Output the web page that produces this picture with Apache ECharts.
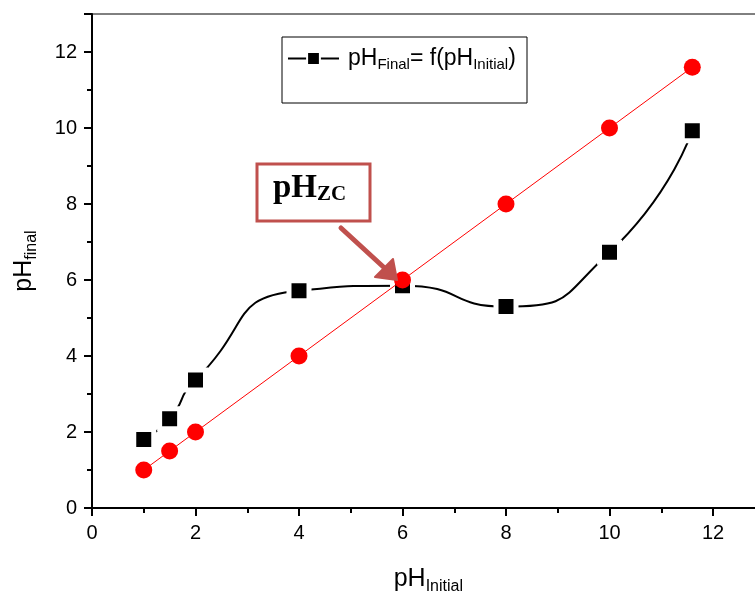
<!DOCTYPE html>
<html>
<head>
<meta charset="utf-8">
<script src="https://cdn.jsdelivr.net/npm/echarts@6/dist/echarts.min.js"></script>
<style>
	html, body { margin: 0; padding: 0; background: #fff; }
	#main { width: 755px; height: 594px; }
</style>
</head>
<body>
<div id="main"></div>
<script>
// values
var phInitial = [1, 1.5, 2, 4, 6, 8, 10, 11.6];
var phFinal = [1.8, 2.35, 3.37, 5.72, 5.85, 5.3, 6.73, 9.93];
var phSame = [1, 1.5, 2, 4, 6, 8, 10, 11.6];

var mainChart = null;
var chartOpt = null;

function pairs(xs, ys) {
	var out = [];
	for (var i = 0; i < xs.length; i++) out.push([xs[i], ys[i]]);
	return out;
}

function initChart() {
	mainChart = echarts.init(document.getElementById('main'));

	var font = 'Liberation Sans, Arial, sans-serif';
	var serif = 'Liberation Serif, Times New Roman, serif';
	var arrowColor = '#c0504d';

	chartOpt = {
		animation: false,
		grid: {
			left: 92, top: 14, width: 672.75, height: 494,
			outerBoundsMode: 'none', containLabel: false,
			show: true, borderColor: '#000', borderWidth: 1
		},
		legend: {
			left: 287, top: 47,
			padding: 0,
			itemWidth: 51, itemHeight: 16, itemGap: 10,
			data: ['final'],
			formatter: function() {
				return '{f|pH}{b|Final}{a|= f(pH}{b|Initial}{a|)}';
			},
			textStyle: {
				fontSize: 23,
				rich: {
					f: { fontFamily: font, fontSize: 23, color: '#000', lineHeight: 26, padding: [0, 0, 0, 4] },
					a: { fontFamily: font, fontSize: 23, color: '#000', lineHeight: 26 },
					b: { fontFamily: font, fontSize: 15, color: '#000', padding: [12, 0, 0, 0] }
				}
			}
		},
		xAxis: {
			type: 'value', min: 0, max: 13, interval: 2,
			name: '{a|pH}{b|Initial}',
			nameLocation: 'middle', nameGap: 56,
			nameTextStyle: {
				rich: {
					a: { fontFamily: font, fontSize: 25, color: '#000' },
					b: { fontFamily: font, fontSize: 16, color: '#000', padding: [15, 0, 0, 0] }
				}
			},
			axisLine: { lineStyle: { color: '#000', width: 2 } },
			axisTick: { length: 8, lineStyle: { color: '#000', width: 2 } },
			minorTick: { show: true, splitNumber: 2, length: 5, lineStyle: { color: '#000', width: 2 } },
			axisLabel: { fontFamily: font, fontSize: 20, color: '#000', margin: 15, showMaxLabel: false },
			splitLine: { show: false }
		},
		yAxis: {
			type: 'value', min: 0, max: 13, interval: 2,
			name: '{a|pH}{b|final}',
			nameLocation: 'middle', nameGap: 52, nameRotate: 90,
			nameTextStyle: {
				rich: {
					a: { fontFamily: font, fontSize: 25, color: '#000' },
					b: { fontFamily: font, fontSize: 16, color: '#000', padding: [15, 0, 0, 0] }
				}
			},
			axisLine: { lineStyle: { color: '#000', width: 2 } },
			axisTick: { length: 8, lineStyle: { color: '#000', width: 2 } },
			minorTick: { show: true, splitNumber: 2, length: 5, lineStyle: { color: '#000', width: 2 } },
			axisLabel: { fontFamily: font, fontSize: 20, color: '#000', margin: 15, showMaxLabel: false },
			splitLine: { show: false }
		},
		series: [
			{
				name: 'final',
				type: 'line',
				smooth: 0.6,
				data: pairs(phInitial, phFinal),
				symbol: 'rect',
				symbolSize: 20,
				itemStyle: { color: '#000', borderColor: '#fff', borderWidth: 5 },
				lineStyle: { color: '#000', width: 2 },
				z: 2
			},
			{
				name: 'same',
				type: 'line',
				data: pairs(phInitial, phSame),
				symbol: 'circle',
				symbolSize: 17,
				itemStyle: { color: '#ff0000' },
				lineStyle: { color: '#ff0000', width: 1 },
				z: 3
			}
		],
		graphic: [
			{
				type: 'rect',
				shape: { x: 282, y: 37, width: 245, height: 66 },
				style: { fill: 'none', stroke: '#000', lineWidth: 1 },
				z: 1
			},
			{
				type: 'rect',
				shape: { x: 257, y: 164, width: 113, height: 57 },
				style: { fill: '#fff', stroke: arrowColor, lineWidth: 3 },
				z: 10
			},
			{
				type: 'text',
				left: 273, top: 172,
				style: {
					text: '{a|pH}{b|ZC}',
					rich: {
						a: { fontFamily: serif, fontWeight: 'bold', fontSize: 33, fill: '#000' },
						b: { fontFamily: serif, fontWeight: 'bold', fontSize: 21, fill: '#000', padding: [12, 0, 0, 0] }
					}
				},
				z: 11
			},
			{
				type: 'line',
				shape: { x1: 341, y1: 228, x2: 390, y2: 273 },
				style: { stroke: arrowColor, lineWidth: 5, lineCap: 'round' },
				z: 10
			},
			{
				type: 'polygon',
				shape: { points: [[375, 277], [397, 280], [393, 259]] },
				style: { fill: arrowColor, stroke: arrowColor, lineWidth: 2, lineJoin: 'round' },
				z: 10
			}
		]
	};

	mainChart.setOption(chartOpt);
}

initChart();
</script>
</body>
</html>
